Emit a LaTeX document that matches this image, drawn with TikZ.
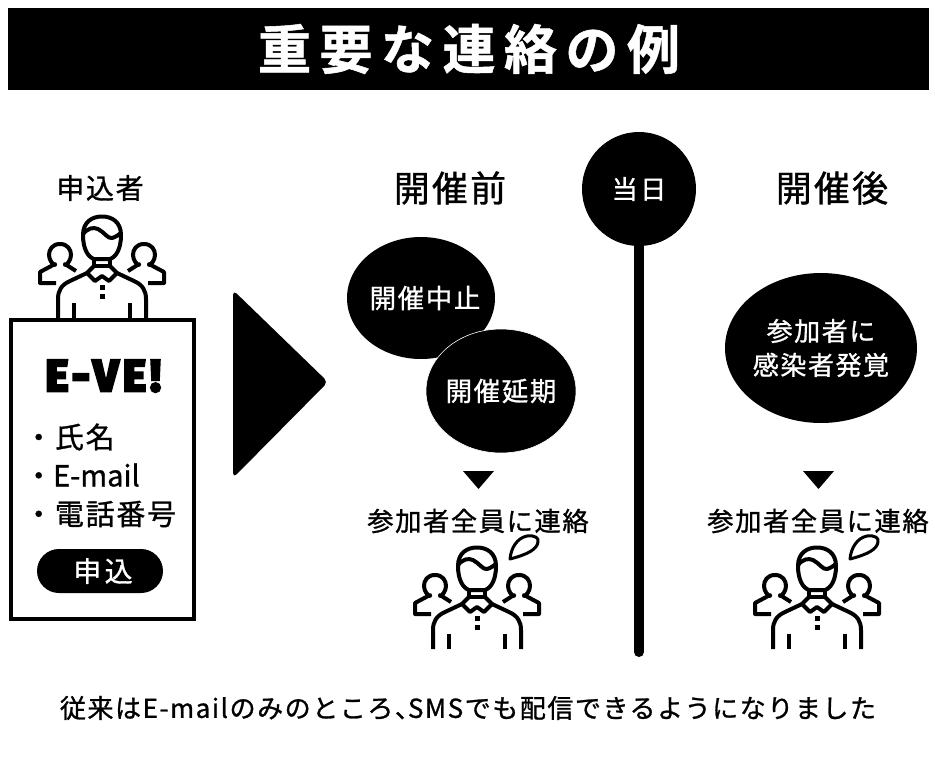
\documentclass[tikz,border=0pt]{standalone}
\usetikzlibrary{shapes.geometric}
\usepackage{fontspec}
\setmainfont{Noto Sans CJK JP}[BoldFont={Noto Sans CJK JP Bold},LetterSpace=6,FakeBold=1]
\newfontfamily\logofont{Fira Sans}[BoldFont={Fira Sans Bold},FakeBold=7,LetterSpace=10]
\tikzset{
 iconline/.style={line width=4pt,line join=round,line cap=butt,black},
 txt/.style={inner sep=0pt,text=black,align=center},
 wtxt/.style={inner sep=0pt,text=white,align=center},
 blob/.style={fill=black,draw=none,inner sep=0pt},
}
\newcommand{\personicon}[2]{%
\begin{scope}[shift={(#1,#2)}]
 \draw[iconline] (-8,44) .. controls (-14,42) and (-19,34) .. (-19,20) .. controls (-19,7) and (-10,1.5) .. (0,1.5) .. controls (10,1.5) and (19,7) .. (19,20) .. controls (19,34) and (14,42) .. (8,44) -- cycle;
 \draw[iconline] (-19,19) .. controls (-14,13) and (-9,12) .. (-4,14) .. controls (2,17) and (6,24) .. (10,23) .. controls (14,22) and (16,20) .. (19,18);
 \draw[iconline] (-8,44) -- (-8,51) -- (8,51) -- (8,44);
 \draw[iconline] (-8,51) -- (-15,58) -- (-7,66) -- (0,61) -- (7,66) -- (15,58) -- (8,51);
 \draw[iconline] (-15,58) -- (-32,66) .. controls (-41,70) and (-44,76) .. (-44,84) -- (-44,103);
 \draw[iconline] (15,58) -- (32,66) .. controls (41,70) and (44,76) .. (44,84) -- (44,103);
 \draw[iconline] (-28,88) -- (-28,103);
 \draw[iconline] (28,88) -- (28,103);
 \fill (-2.5,70) rectangle (2.5,75);
 \fill (-2.5,79) rectangle (2.5,84);
 \foreach \s in {-1,1}{
 \begin{scope}[xscale=\s]
  \draw[iconline] (42,29) .. controls (34,29) and (31,35) .. (31,40) .. controls (31,45) and (35,50) .. (37,50) -- (37,49) -- (26,56);
  \draw[iconline] (42,29) .. controls (50,29) and (53,35) .. (53,40) .. controls (53,45) and (49,50) .. (47,50) -- (47,49) -- (62,57) -- (62,68) -- (46,68);
 \end{scope}}
\end{scope}}
\newcommand{\bubbleicon}[2]{%
 \draw[line width=3pt,line join=round,shift={(#1,#2)}] (33,13) .. controls (34,2) and (40,-8) .. (50,-10) .. controls (58,-11) and (62,-8) .. (61,-4) .. controls (60,3) and (52,8) .. (33,13) -- cycle;}
\begin{document}
\begin{tikzpicture}[x=1pt,y=-1pt]
\useasboundingbox (0,0) rectangle (935,763);
\fill[white] (0,0) rectangle (935,763);
\node[fill=black,minimum width=921pt,minimum height=82pt,inner sep=0pt] (bar) at (468.5,49) {};
\node[wtxt,font=\fontsize{53}{53}\selectfont\bfseries\addfontfeatures{LetterSpace=16}] (title) at (469,49) {重要な連絡の例};
\node[txt,font=\fontsize{28}{28}\selectfont] (applicant) at (100,188) {申込者};
\node[txt,font=\fontsize{36}{36}\selectfont\addfontfeatures{LetterSpace=6}] (before) at (450,188) {開催前};
\node[txt,font=\fontsize{36}{36}\selectfont\addfontfeatures{LetterSpace=6}] (after) at (832,188) {開催後};
\personicon{102}{215}
\node[draw=black,fill=white,line width=4pt,minimum width=183pt,minimum height=299pt,inner sep=0pt] (form) at (102.5,469.5) {};
\node[txt,font=\fontsize{44}{44}\selectfont\logofont\bfseries] (logo) at (103,376) {E-VE!};
\node[txt,anchor=west,font=\fontsize{29}{29}\selectfont] (i1) at (24,437) {・氏名};
\node[txt,anchor=west,font=\fontsize{29}{29}\selectfont] (i2) at (24,475) {・\addfontfeatures{LetterSpace=0}E-mail};
\node[txt,anchor=west,font=\fontsize{29}{29}\selectfont] (i3) at (24,514) {・電話番号};
\node[blob,rounded corners=22pt,minimum width=126pt,minimum height=44pt] (pill) at (100,571) {};
\node[wtxt,font=\fontsize{28}{28}\selectfont\addfontfeatures{LetterSpace=12}] (pilltxt) at (103,571) {申込};
\fill[black,rounded corners=5pt] (233,290) -- (328,382) -- (233,478) -- cycle;
\draw[line width=10pt,line cap=round] (639,189) -- (639,652);
\node[blob,circle,minimum size=114pt] (day) at (639,189) {};
\node[wtxt,font=\fontsize{26}{26}\selectfont\addfontfeatures{LetterSpace=10}] (daytxt) at (639,189) {当日};
\node[blob,ellipse,minimum width=148pt,minimum height=122pt] (e1) at (421,298) {};
\node[wtxt,font=\fontsize{26.5}{26.5}\selectfont] at (425,298) {開催中止};
\node[blob,ellipse,draw=white,line width=0.6pt,minimum width=150pt,minimum height=124pt] (e2) at (501,391) {};
\node[wtxt,font=\fontsize{26.5}{26.5}\selectfont] at (501,391) {開催延期};
\node[blob,ellipse,minimum width=192pt,minimum height=150pt] (e3) at (821,348) {};
\node[wtxt,font=\fontsize{26}{34}\selectfont] at (821,348) {参加者に\\感染者発覚};
\fill (463,471) -- (494,471) -- (478.5,489) -- cycle;
\fill (803,471) -- (834,471) -- (818.5,489) -- cycle;
\node[txt,font=\fontsize{26.3}{26.3}\selectfont] (c1) at (478,521) {参加者全員に連絡};
\node[txt,font=\fontsize{26.3}{26.3}\selectfont] (c2) at (818,521) {参加者全員に連絡};
\personicon{477}{546}
\bubbleicon{477}{546}
\personicon{817}{546}
\bubbleicon{817}{546}
\node[txt,font=\fontsize{26}{26}\selectfont] (foot) at (468,708) {従来はE-mailのみのところ、\kern-13pt SMSでも配信できるようになりました};
\end{tikzpicture}
\end{document}
